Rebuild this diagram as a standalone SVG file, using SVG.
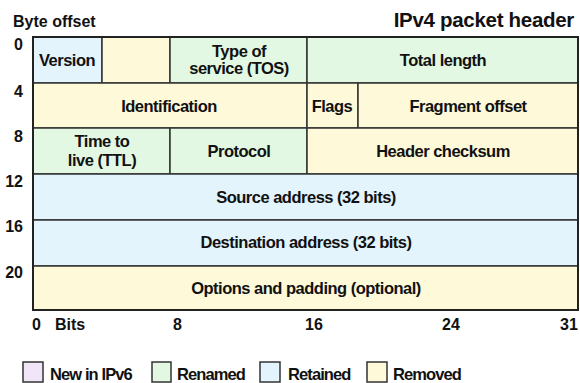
<svg xmlns="http://www.w3.org/2000/svg" width="580" height="383" viewBox="0 0 580 383">
<style>
text{font-family:"Liberation Sans",Arial,sans-serif;font-weight:bold;fill:#111;}
.c{font-size:16.5px;text-anchor:middle;letter-spacing:-0.5px;}
.n{font-size:16px;}
.r{text-anchor:end;}
.cell{stroke:#333;stroke-width:1.5;}
.blue{fill:#e3f4fc;}
.yel{fill:#fdf9d9;}
.grn{fill:#e3f8e3;}
.pur{fill:#f1e6f8;}
.lg{font-size:16.5px;letter-spacing:-0.9px;}
</style>
<rect width="580" height="383" fill="#ffffff"/>
<text class="n" x="13" y="27">Byte offset</text>
<text x="574" y="27" style="font-size:20.5px;letter-spacing:-0.3px" text-anchor="end">IPv4 packet header</text>
<g id="offsets" class="n">
<text class="r" x="23" y="50">0</text>
<text class="r" x="23" y="97">4</text>
<text class="r" x="23" y="142">8</text>
<text class="r" x="23" y="187">12</text>
<text class="r" x="23" y="232">16</text>
<text class="r" x="23" y="278">20</text>
</g>
<g id="version"><rect class="cell blue" x="33" y="37" width="69" height="46"/><text class="c" x="67" y="66">Version</text></g>
<g id="ihl"><rect class="cell yel" x="102" y="37" width="68" height="46"/></g>
<g id="tos"><rect class="cell grn" x="170" y="37" width="137" height="46"/><text class="c" x="239" y="57">Type of</text><text class="c" x="239" y="74">service (TOS)</text></g>
<g id="total-length"><rect class="cell grn" x="307" y="37" width="271" height="46"/><text class="c" x="443" y="66">Total length</text></g>
<g id="identification"><rect class="cell yel" x="33" y="83" width="274" height="45"/><text class="c" x="169" y="112">Identification</text></g>
<g id="flags"><rect class="cell yel" x="307" y="83" width="51" height="45"/><text class="c" x="332" y="112">Flags</text></g>
<g id="fragment-offset"><rect class="cell yel" x="358" y="83" width="220" height="45"/><text class="c" x="468" y="112">Fragment offset</text></g>
<g id="ttl"><rect class="cell grn" x="33" y="128" width="137" height="46"/><text class="c" x="102" y="147">Time to</text><text class="c" x="102" y="166">live (TTL)</text></g>
<g id="protocol"><rect class="cell grn" x="170" y="128" width="137" height="46"/><text class="c" x="239" y="157">Protocol</text></g>
<g id="checksum"><rect class="cell yel" x="307" y="128" width="271" height="46"/><text class="c" x="443" y="157">Header checksum</text></g>
<g id="source"><rect class="cell blue" x="33" y="174" width="545" height="46"/><text class="c" x="306" y="203">Source address (32 bits)</text></g>
<g id="destination"><rect class="cell blue" x="33" y="220" width="545" height="46"/><text class="c" x="306" y="248">Destination address (32 bits)</text></g>
<g id="options"><rect class="cell yel" x="33" y="266" width="545" height="44"/><text class="c" x="306" y="294">Options and padding (optional)</text></g>
<rect x="33" y="37" width="545" height="273" fill="none" stroke="#222" stroke-width="2"/>
<g id="connectors"></g>
<g id="bits" class="n">
<text x="32" y="330">0</text>
<text x="55" y="330">Bits</text>
<text x="173" y="330">8</text>
<text x="305" y="330">16</text>
<text x="442" y="330">24</text>
<text x="560" y="330">31</text>
</g>
<g id="legend">
<rect class="cell pur" x="23" y="362" width="20" height="20"/><text class="lg" x="50" y="380">New in IPv6</text>
<rect class="cell grn" x="152" y="362" width="19" height="20"/><text class="lg" x="177" y="380">Renamed</text>
<rect class="cell blue" x="260" y="362" width="20" height="20"/><text class="lg" x="288" y="380">Retained</text>
<rect class="cell yel" x="367" y="362" width="20" height="20"/><text class="lg" x="393" y="380">Removed</text>
</g>
</svg>
